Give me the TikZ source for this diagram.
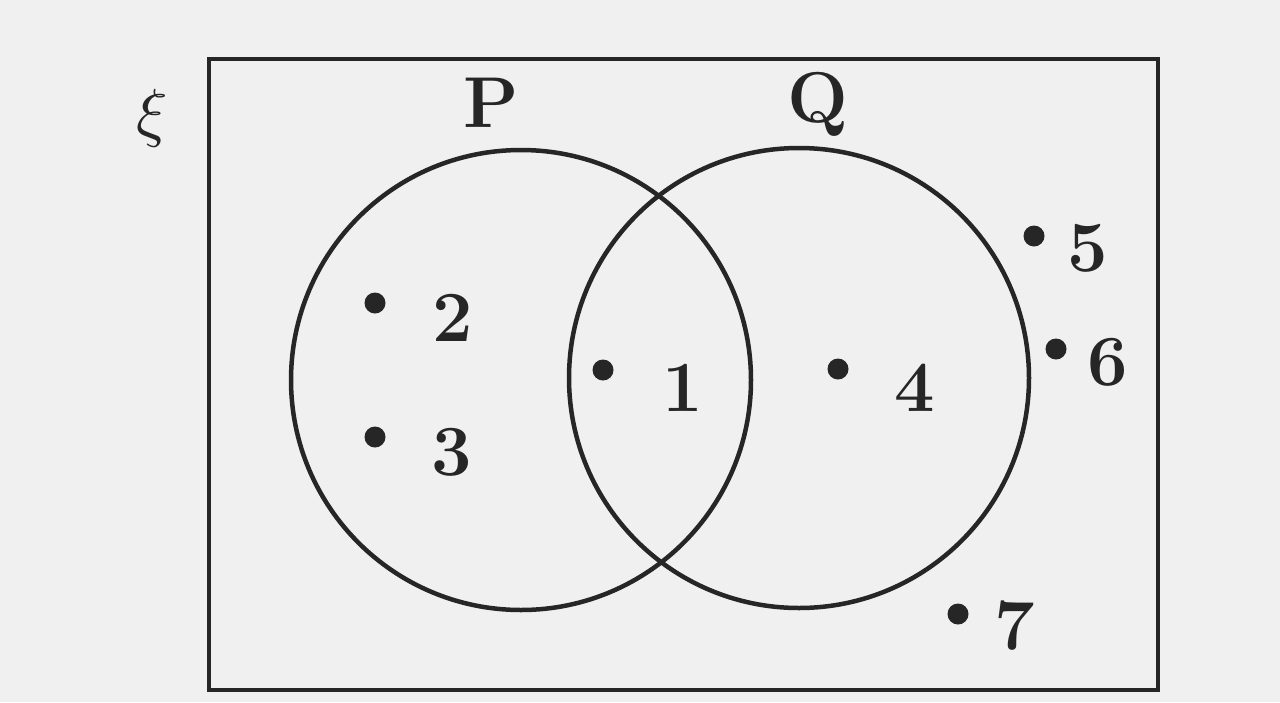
\documentclass[tikz,border=0pt]{standalone}
\usepackage{fontspec}
\begin{document}
\begin{tikzpicture}[x=1pt,y=-1pt,
  ln/.style={draw=black!85, line width=4.5pt},
  lab/.style={font=\fontsize{72}{72}\selectfont\bfseries, text=black!85, inner sep=0pt},
  pt/.style={circle, fill=black!85, inner sep=0pt, minimum size=21pt}]
\fill[black!6] (0,0) rectangle (1280,702);
\useasboundingbox (0,0) rectangle (1280,702);
\draw[ln] (209,59) rectangle (1158,690);
\node[ln, circle, minimum size=460pt, inner sep=0pt] (P) at (521,380) {};
\node[ln, circle, minimum size=460pt, inner sep=0pt] (Q) at (799,378) {};
\node[lab] (lP) at (491,103) {P};
\node[lab] (lQ) at (818,104) {Q};
\node[scale=6.5, text=black!85, inner sep=0pt] (xi) at (152,118) {$\xi$};
\node[pt] (d2) at (375,303) {};
\node[lab] (n2) at (453,318) {2};
\node[pt] (d3) at (375,437) {};
\node[lab] (n3) at (452,452) {3};
\node[pt] (d1) at (603,370) {};
\node[lab] (n1) at (683,388) {1};
\node[pt] (d4) at (838,369) {};
\node[lab] (n4) at (915,388) {4};
\node[pt] (d5) at (1034,236) {};
\node[lab] (n5) at (1088,248) {5};
\node[pt] (d6) at (1056,349) {};
\node[lab] (n6) at (1108,362) {6};
\node[pt] (d7) at (958,614) {};
\node[lab] (n7) at (1015,626) {7};
\end{tikzpicture}
\end{document}
